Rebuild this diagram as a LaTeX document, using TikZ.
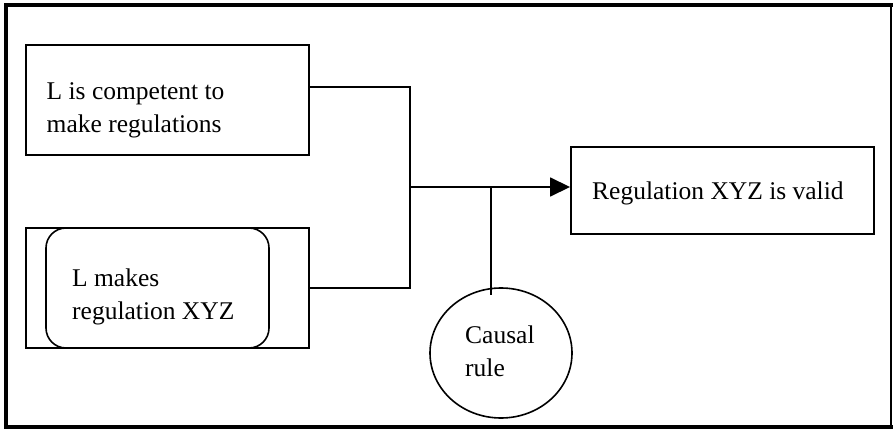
\documentclass[tikz,border=0pt]{standalone}
\usepackage{fontspec}
\setmainfont{Liberation Serif}
\usetikzlibrary{arrows.meta,shapes.geometric,calc}
\begin{document}
\begin{tikzpicture}[x=1pt,y=-1pt,
  box/.style={draw,line width=1.9pt,inner sep=0pt},
  wire/.style={line width=1.6pt},
  lbl/.style={anchor=base west,inner sep=0pt,font=\fontsize{25.5}{33}\selectfont},
]
\useasboundingbox (0,0) rectangle (893,430);
% outer frame
\draw[line width=2pt] (891,5) -- (891,427);
\draw[line width=3.2pt,line cap=rect] (891,5) -- (6,5) -- (6,427) -- (891,427);

% boxes
\node[box,minimum width=283pt,minimum height=110pt] (b1) at (167.5,100) {};
\node[box,minimum width=283pt,minimum height=120pt] (b2) at (167.5,288) {};
\node[box,line width=1.6pt,rounded corners=20pt,minimum width=223pt,minimum height=120pt] (b2in) at (157.5,288) {};
\node[box,minimum width=303pt,minimum height=87pt] (b3) at (722.5,190.5) {};
\node[box,line width=1.6pt,ellipse,minimum width=142pt,minimum height=130pt] (rule) at (501,353) {};

% labels
\node[lbl] (t1) at (46.5,100) {\begin{tabular}[t]{@{}l@{}}L is competent to\\make regulations\end{tabular}};
\node[lbl] (t2) at (72,286) {\begin{tabular}[t]{@{}l@{}}L makes\\regulation XYZ\end{tabular}};
\node[lbl] (t3) at (592,200) {Regulation XYZ is valid};
\node[lbl] (t4) at (465,343) {\begin{tabular}[t]{@{}l@{}}Causal\\rule\end{tabular}};

% connectors
\coordinate (bus) at (410,187);
\coordinate (stem) at (491,187);
\draw[wire] ([yshift=13pt]b1.east) -| (bus) |- (b2.east);
\draw[wire,-{Triangle[length=20pt,width=19pt]}] (bus) -- (b3.west |- bus);
\draw[wire] (stem) -- ([yshift=-8pt]stem |- rule.north);
\end{tikzpicture}
\end{document}
